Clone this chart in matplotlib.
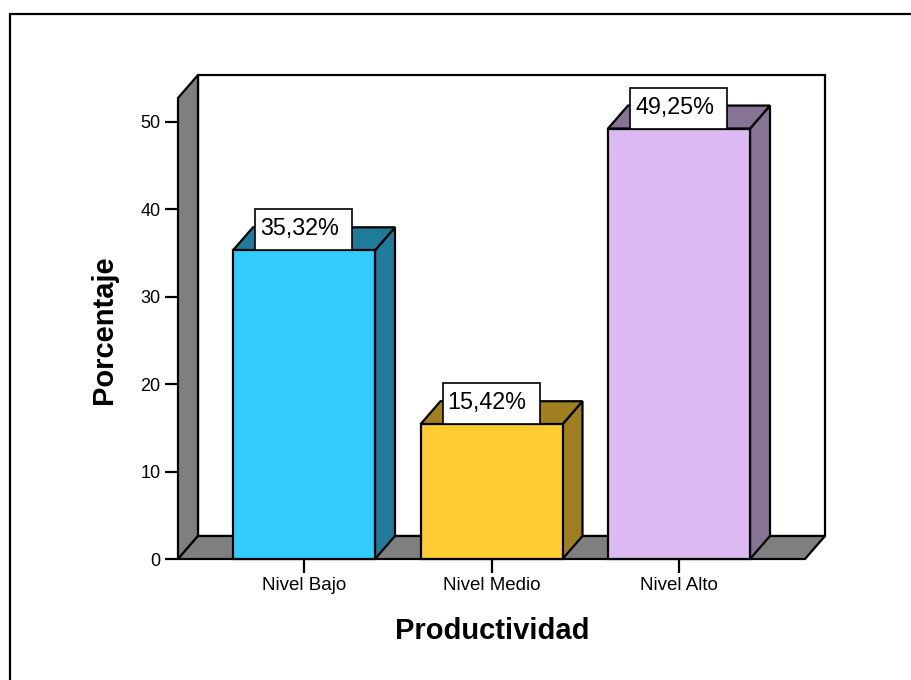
import matplotlib
matplotlib.use("Agg")
import matplotlib.pyplot as plt
from matplotlib.patches import Polygon, Rectangle

plt.rcParams['font.family'] = ['Liberation Sans', 'DejaVu Sans']

# --- data ---
categories = ["Nivel Bajo", "Nivel Medio", "Nivel Alto"]
percentages = [35.32, 15.42, 49.25]
labels = ["35,32%", "15,42%", "49,25%"]
y_ticks = [0, 10, 20, 30, 40, 50]

front_colors = ["#33CCFF", "#FFCC33", "#DDB9F2"]
shade_colors = ["#1F7B99", "#9F7F20", "#877394"]
wall_gray = "#7F7F7F"

W, H, DPI = 912, 680, 100
fig = plt.figure(figsize=(W / DPI, H / DPI), dpi=DPI)

# plot box in pixels (front plane starts at left, back plane ends at right)
px_left, px_right, px_bottom, px_top = 178, 825, 559, 75
ax = fig.add_axes([px_left / W, 1 - px_bottom / H,
                   (px_right - px_left) / W, (px_bottom - px_top) / H])

px_per_cat = 187.5
px_per_unit = 8.74
x0 = (px_left - 304) / px_per_cat
x1 = (px_right - 304) / px_per_cat
ymax = (px_bottom - px_top) / px_per_unit
ax.set_xlim(x0, x1)
ax.set_ylim(0, ymax)

# depth offset of the pseudo-3D look, in data units
dx = 20 / px_per_cat
dy = 23 / px_per_unit
lw = 1.6

# back wall, left wall and floor
ax.add_patch(Rectangle((x0 + dx, dy), x1 - x0 - dx, ymax - dy,
                       facecolor="white", edgecolor="black", lw=lw, clip_on=False))
ax.add_patch(Polygon([(x0, 0), (x0 + dx, dy), (x0 + dx, ymax), (x0, ymax - dy)],
                     closed=True, facecolor=wall_gray, edgecolor="black", lw=lw,
                     clip_on=False, joinstyle="miter"))
ax.add_patch(Polygon([(x0, 0), (x1 - dx, 0), (x1, dy), (x0 + dx, dy)],
                     closed=True, facecolor=wall_gray, edgecolor="black", lw=lw,
                     clip_on=False, joinstyle="miter"))

bar_w = 142 / px_per_cat
box_off = 22 / px_per_cat
box_w = 97 / px_per_cat
box_h = 41 / px_per_unit

for i, (v, lab) in enumerate(zip(percentages, labels)):
    l = i - bar_w / 2
    r = i + bar_w / 2
    kw = dict(closed=True, edgecolor="black", lw=lw, clip_on=False, joinstyle="miter")
    ax.add_patch(Polygon([(r, 0), (r + dx, dy), (r + dx, v + dy), (r, v)],
                         facecolor=shade_colors[i], **kw))
    ax.add_patch(Polygon([(l, v), (l + dx, v + dy), (r + dx, v + dy), (r, v)],
                         facecolor=shade_colors[i], **kw))
    ax.add_patch(Rectangle((l, 0), bar_w, v, facecolor=front_colors[i],
                           edgecolor="black", lw=lw, clip_on=False))
    # value label box sitting on the bar top
    ax.add_patch(Rectangle((l + box_off, v), box_w, box_h, facecolor="white",
                           edgecolor="black", lw=1.2, clip_on=False, zorder=3))
    ax.text(l + box_off + 5 / px_per_cat, v + 15 / px_per_unit, lab,
            fontsize=16.8, ha="left", va="baseline", zorder=4)

for s in ax.spines.values():
    s.set_visible(False)
ax.patch.set_visible(False)

ax.set_yticks(y_ticks)
ax.set_yticklabels([str(t) for t in y_ticks])
ax.set_xticks(range(len(categories)))
ax.set_xticklabels(categories)
ax.tick_params(axis="y", direction="out", length=9.5, width=1.6, pad=3, labelsize=13)
ax.tick_params(axis="x", direction="out", length=10, width=1.6, pad=3, labelsize=13.5)

fig.text(104 / W, 1 - 330 / H, "Porcentaje", rotation=90, ha="center", va="center",
         fontsize=21, fontweight="bold")
fig.text(492 / W, 1 - 631 / H, "Productividad", ha="center", va="center",
         fontsize=21, fontweight="bold")

# outer frame
fig.patches.append(Rectangle((10 / W, -0.1), 1.2, 1.1 - 14 / H, transform=fig.transFigure,
                             facecolor="none", edgecolor="black", lw=1.6))

fig.savefig("out.png", dpi=DPI)
